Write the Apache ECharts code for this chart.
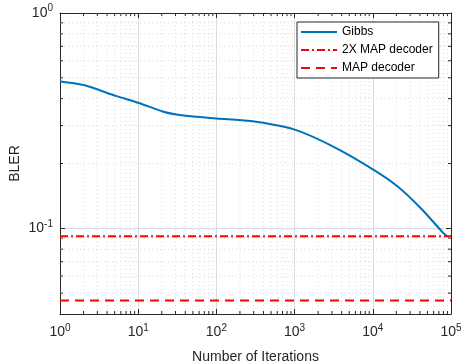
<!DOCTYPE html>
<html><head><meta charset="utf-8">
<script src="https://cdn.jsdelivr.net/npm/echarts@6/dist/echarts.min.js"></script>
<style>html,body{margin:0;padding:0;background:#fff}#c{width:461px;height:364px}</style>
</head><body><div id="c"></div>
<script>
// Data
const gibbsX = [1, 2, 5.3, 10, 21, 38, 100, 275, 980, 3160, 10500, 21000, 42000, 81000, 90000];
const gibbsY = [0.481, 0.463, 0.411, 0.383, 0.348, 0.334, 0.324, 0.315, 0.288, 0.239, 0.186, 0.156, 0.123, 0.0945, 0.0918];
const map2xX = [1, 100000];
const map2xY = [0.0918, 0.0918];
const mapX = [1, 100000];
const mapY = [0.0462, 0.0462];
const seriesNames = ['Gibbs', '2X MAP decoder', 'MAP decoder'];
const xTitle = 'Number of Iterations';
const yTitle = 'BLER';

const xMin = 1, xMax = 1e5, yMin = 0.04, yMax = 1;
const axisColor = '#262626';
const font = 'Liberation Sans, Arial, Helvetica, sans-serif';

// minor tick values
const xMinor = [];
for (let d = 0; d < 5; d++) for (let k = 2; k <= 9; k++) xMinor.push(k * Math.pow(10, d));
const yMinor = [];
for (let d = -2; d < 0; d++) for (let k = 2; k <= 9; k++) { const v = k * Math.pow(10, d); if (v > yMin + 1e-9 && v < yMax) yMinor.push(+v.toFixed(4)); }

function powLabel(v) {
  const e = Math.log10(v); const r = Math.round(e);
  if (Math.abs(e - r) > 1e-6) return '';
  return '{b|10}{s|' + r + '}';
}
const rich = {
  b: { fontSize: 14, fontFamily: font, color: axisColor },
  s: { fontSize: 10, fontFamily: font, color: axisColor, padding: [0, 0, 9, 0] }
};

function logAxis(min, max, extra) {
  return Object.assign({
    type: 'log', logBase: 10, min: min, max: max,
    axisLine: { show: true, onZero: false, lineStyle: { color: axisColor, width: 1 } },
    axisTick: { show: true, inside: true, length: 5, lineStyle: { color: axisColor } },
    splitLine: { show: false },
    axisLabel: { show: false }
  }, extra);
}

const chart = echarts.init(document.getElementById('c'), null, { renderer: 'canvas' });

function minorRender(isX) {
  return function (params, api) {
    const v = api.value(isX ? 0 : 1);
    const cs = params.coordSys;
    if (isX) {
      const p = api.coord([v, yMin]);
      const x = p[0];
      const top = cs.y, bot = cs.y + cs.height;
      return { type: 'group', children: [
        { type: 'line', shape: { x1: x, y1: top, x2: x, y2: bot }, style: { stroke: '#cfcfcf', lineWidth: 0.8, lineDash: [1, 3] }, z2: 0 },
        { type: 'line', shape: { x1: x, y1: bot, x2: x, y2: bot - 3 }, style: { stroke: axisColor, lineWidth: 1 } },
        { type: 'line', shape: { x1: x, y1: top, x2: x, y2: top + 3 }, style: { stroke: axisColor, lineWidth: 1 } }
      ]};
    } else {
      const p = api.coord([xMin, v]);
      const y = p[1];
      const l = cs.x, r = cs.x + cs.width;
      return { type: 'group', children: [
        { type: 'line', shape: { x1: l, y1: y, x2: r, y2: y }, style: { stroke: '#cfcfcf', lineWidth: 0.8, lineDash: [1, 3] }, z2: 0 },
        { type: 'line', shape: { x1: l, y1: y, x2: l + 3, y2: y }, style: { stroke: axisColor, lineWidth: 1 } },
        { type: 'line', shape: { x1: r, y1: y, x2: r - 3, y2: y }, style: { stroke: axisColor, lineWidth: 1 } }
      ]};
    }
  };
}

const option = {
  animation: false,
  backgroundColor: '#fff',
  grid: { left: 60, right: 10, top: 13, bottom: 50, containLabel: false, outerBoundsMode: 'none', show: false },
  xAxis: [
    logAxis(xMin, xMax, {
      position: 'bottom',
      splitLine: { show: true, lineStyle: { color: '#dcdcdc', width: 1 } },
      axisLabel: { show: true, formatter: powLabel, rich: rich, margin: 9, showMinLabel: true, showMaxLabel: true },
      name: xTitle, nameLocation: 'middle', nameGap: 36,
      nameTextStyle: { fontSize: 14, fontFamily: font, color: axisColor }
    }),
    logAxis(xMin, xMax, { position: 'top' })
  ],
  yAxis: [
    logAxis(yMin, yMax, {
      position: 'left',
      splitLine: { show: true, lineStyle: { color: '#dcdcdc', width: 1 } },
      axisLabel: { show: true, formatter: powLabel, rich: rich, margin: 7 },
      name: yTitle, nameLocation: 'middle', nameGap: 38, nameMoveOverlap: false,
      nameTextStyle: { fontSize: 14, fontFamily: font, color: axisColor }
    }),
    logAxis(yMin, yMax, { position: 'right' })
  ],
  legend: {
    data: seriesNames,
    orient: 'vertical', left: 297, top: 22,
    itemWidth: 36, itemHeight: 12, itemGap: 6,
    padding: [4, 6, 4, 3],
    itemStyle: { opacity: 0 },
    backgroundColor: '#fff', borderColor: axisColor, borderWidth: 1,
    textStyle: { fontSize: 12, fontFamily: font, color: '#000' }
  },
  series: [
    { type: 'custom', silent: true, renderItem: minorRender(true), data: xMinor.map(v => [v, yMin]), z: 1 },
    { type: 'custom', silent: true, renderItem: minorRender(false), data: yMinor.map(v => [xMin, v]), z: 1 },
    { name: seriesNames[0], type: 'line', showSymbol: false, symbol: 'none', smooth: 0.3,
      data: gibbsX.map((x, i) => [x, gibbsY[i]]), lineStyle: { color: '#0072BD', width: 2 }, itemStyle: { color: '#0072BD' }, z: 3 },
    { name: seriesNames[1], type: 'line', showSymbol: false, symbol: 'none',
      data: map2xX.map((x, i) => [x, map2xY[i]]), lineStyle: { color: '#FF0000', width: 2, type: [8, 3, 2, 3] }, itemStyle: { color: '#FF0000' }, z: 3 },
    { name: seriesNames[2], type: 'line', showSymbol: false, symbol: 'none',
      data: mapX.map((x, i) => [x, mapY[i]]), lineStyle: { color: '#FF0000', width: 2, type: [9, 6] }, itemStyle: { color: '#FF0000' }, z: 3 }
  ]
};
chart.setOption(option);
</script></body></html>
